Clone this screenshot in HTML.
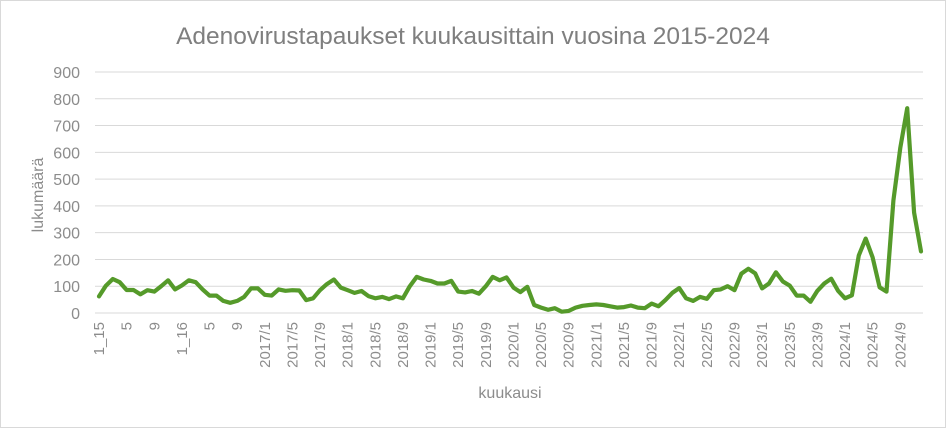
<!DOCTYPE html>
<html><head><meta charset="utf-8"><style>
html,body{margin:0;padding:0;background:#fff}
svg{display:block;font-family:"Liberation Sans",sans-serif}
</style></head><body>
<svg width="946" height="428" xmlns="http://www.w3.org/2000/svg">
<rect x="0.5" y="0.5" width="945" height="427" fill="#fff" stroke="#d9d9d9"/>
<text x="473" y="44" text-anchor="middle" font-size="24.5" fill="#7f7f7f">Adenovirustapaukset kuukausittain vuosina 2015-2024</text>
<g id="grid" stroke="#d9d9d9" stroke-width="1"></g>
<g id="yl" font-size="16" fill="#8c8c8c" text-anchor="end"></g>
<g id="xl" font-size="15" fill="#8c8c8c"></g>
<text transform="translate(43,195) rotate(-90)" text-anchor="middle" font-size="16" fill="#8c8c8c">lukumäärä</text>
<text x="510" y="398" text-anchor="middle" font-size="16" fill="#8c8c8c">kuukausi</text>
<polyline id="ln" fill="none" stroke="#559a2a" stroke-width="4.2" stroke-linejoin="round" stroke-linecap="round"/>
</svg>
<script>
var d=[62,102,127,115,86,86,70,85,80,100,122,88,
103,122,115,88,65,65,45,38,45,60,92,92,
68,65,88,83,85,84,48,55,85,108,125,95,
85,75,82,63,55,60,52,62,55,100,135,125,
120,110,110,120,80,77,82,72,100,135,122,133,
95,78,98,30,20,12,18,5,8,20,27,30,
32,30,25,20,22,28,20,18,35,25,48,75,
93,55,45,60,53,85,88,100,85,147,165,148,
92,110,152,118,102,65,65,42,83,110,128,83,
55,66,215,278,208,96,80,420,617,765,375,230];
function X(i){return 99+i*(921-99)/119}
function Y(v){return 313-v*(241/900)}
var ns="http://www.w3.org/2000/svg";
var g=document.getElementById('grid'),yl=document.getElementById('yl'),xl=document.getElementById('xl');
for(var v=0;v<=900;v+=100){var l=document.createElementNS(ns,'line');l.setAttribute('x1',95);l.setAttribute('x2',923);l.setAttribute('y1',Y(v));l.setAttribute('y2',Y(v));g.appendChild(l);
var t=document.createElementNS(ns,'text');t.setAttribute('x',80);t.setAttribute('y',Y(v)+6);t.textContent=v;yl.appendChild(t);}
var labs=['1_15','5','9','1_16','5','9'];
for(var y=2017;y<=2024;y++){labs.push(y+'/1',y+'/5',y+'/9');}
labs.forEach(function(s,k){var x=X(k*4)+5;var t=document.createElementNS(ns,'text');t.setAttribute('transform','translate('+x+',322) rotate(-90)');t.setAttribute('text-anchor','end');t.textContent=s;xl.appendChild(t);});
document.getElementById('ln').setAttribute('points',d.map(function(v,i){return X(i).toFixed(1)+','+Y(v).toFixed(1)}).join(' '));
</script>
</body></html>
